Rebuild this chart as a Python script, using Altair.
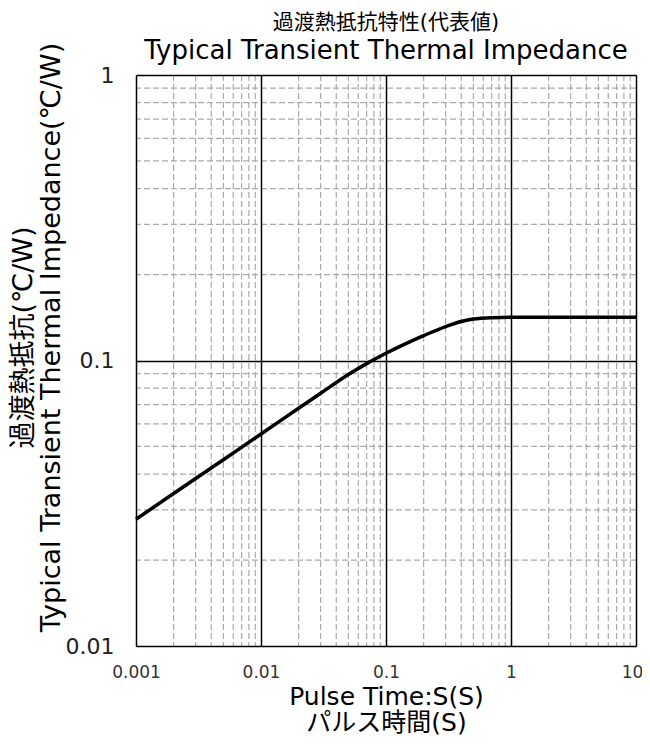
import altair as alt
import pandas as pd

pulse_time = [0.001, 0.002, 0.005, 0.01, 0.02, 0.03, 0.05, 0.07, 0.1, 0.15, 0.2, 0.3, 0.4, 0.5, 0.7, 1, 2, 5, 10]
impedance = [0.0278, 0.0342, 0.0449, 0.0553, 0.0680, 0.0768, 0.0893, 0.0975, 0.1060, 0.1155, 0.1222, 0.1315, 0.1370, 0.1398, 0.1413, 0.1417, 0.1417, 0.1417, 0.1417]

x_major = [0.001, 0.01, 0.1, 1, 10]
y_major = [0.01, 0.1, 1]
x_minor = [m * d for d in [0.001, 0.01, 0.1, 1] for m in range(2, 10)]
y_minor = [m * d for d in [0.01, 0.1] for m in range(2, 10)]

FONT = "DejaVu Sans, Noto Sans CJK JP"

df = pd.DataFrame({"t": pulse_time, "z": impedance})
xs = alt.Scale(type="log", domain=[0.001, 10])
ys = alt.Scale(type="log", domain=[0.01, 1])

vminor = alt.Chart(pd.DataFrame({"v": x_minor})).mark_rule(
    color="#aaaaaa", strokeDash=[6, 3], strokeWidth=1.2
).encode(x=alt.X("v:Q", scale=xs))
hminor = alt.Chart(pd.DataFrame({"v": y_minor})).mark_rule(
    color="#aaaaaa", strokeDash=[6, 3], strokeWidth=1.2
).encode(y=alt.Y("v:Q", scale=ys))

line = alt.Chart(df).mark_line(color="black", strokeWidth=3.5, interpolate="monotone").encode(
    x=alt.X("t:Q", scale=xs,
            axis=alt.Axis(values=x_major, format="~g", title=["Pulse Time:S(S)", "パルス時間(S)"],
                          grid=True, gridColor="black", gridWidth=1.5, ticks=False, domain=False,
                          labelFontSize=17, labelColor="#333333", labelPadding=18, labelFlush=False,
                          labelOffset={"condition": {"test": "datum.value == 10", "value": -4}, "value": 0},
                          titleFontSize=25, titleColor="black", titlePadding=4, zindex=1,
                          labelFont=FONT, titleFont=FONT, titleFontWeight="normal", titleLineHeight=26)),
    y=alt.Y("z:Q", scale=ys,
            axis=alt.Axis(values=y_major, format="~g", title=["過渡熱抵抗(℃/W)", "Typical Transient Thermal Impedance(℃/W)"],
                          grid=True, gridColor="black", gridWidth=1.5, ticks=False, domain=False,
                          labelFontSize=22, labelColor="#222222", labelPadding=22, labelFlush=False,
                          titleFontSize=27, titleColor="black", titlePadding=0, zindex=1, titleY=262,
                          labelFont=FONT, titleFont=FONT, titleFontWeight="normal", titleLineHeight=28)),
)

chart = alt.layer(vminor, hminor, line).properties(
    width=500, height=571,
    autosize=alt.AutoSizeParams(type="none"),
    padding={"left": 128, "top": 67, "right": 6, "bottom": 90},
    title=alt.TitleParams("過渡熱抵抗特性(代表値)", subtitle="Typical Transient Thermal Impedance",
                          font=FONT, fontSize=21, fontWeight="normal", color="black",
                          subtitleFont=FONT, subtitleFontSize=26, subtitleColor="black",
                          subtitlePadding=5, anchor="middle", offset=-22),
).configure_view(stroke="black", strokeWidth=2).configure(background="white")

chart.save("out.html", embed_options={"renderer": "svg", "actions": False})
